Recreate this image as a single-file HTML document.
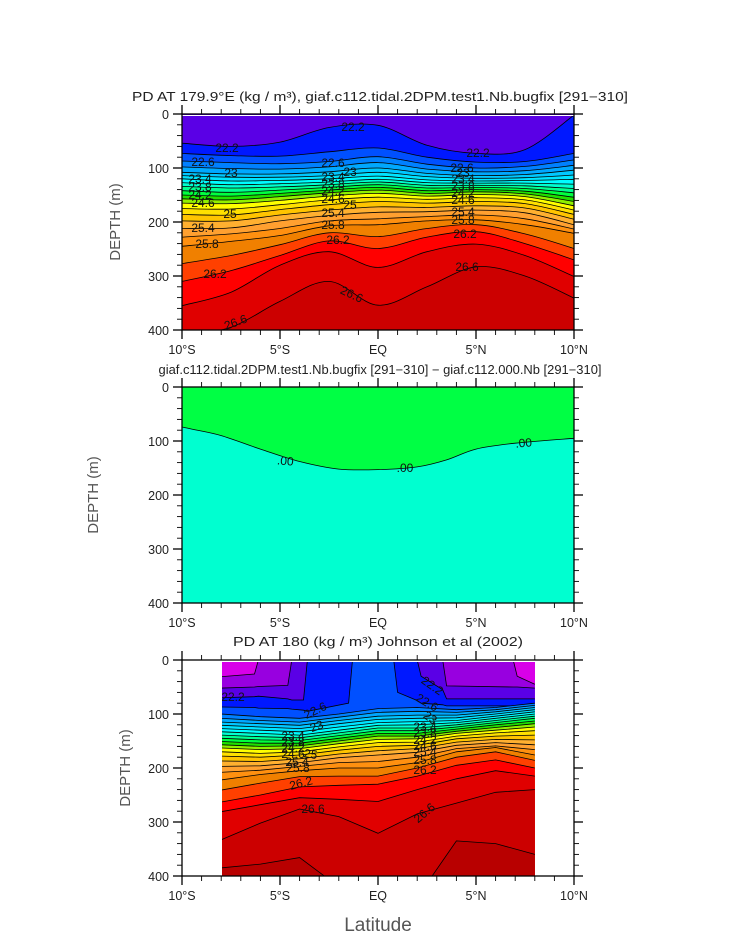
<!DOCTYPE html>
<html><head><meta charset="utf-8"><style>
html,body{margin:0;padding:0;background:#fff;}
svg text{font-family:"Liberation Sans",sans-serif;}
</style></head>
<body>
<svg id="chart" width="733" height="945" viewBox="0 0 733 945" xmlns="http://www.w3.org/2000/svg">
<defs>
<clipPath id="clip1"><rect x="182" y="114" width="392" height="216"/></clipPath>
<clipPath id="clip2"><rect x="182" y="387" width="392" height="216"/></clipPath>
<clipPath id="clip3"><rect x="222" y="662" width="313" height="214"/></clipPath>
</defs>
<text x="380" y="101" font-size="12.5" text-anchor="middle" textLength="496" lengthAdjust="spacingAndGlyphs" fill="#222">PD AT 179.9°E (kg / m³), giaf.c112.tidal.2DPM.test1.Nb.bugfix [291−310]</text>
<text x="380" y="374" font-size="12.5" text-anchor="middle" textLength="443" lengthAdjust="spacingAndGlyphs" fill="#222">giaf.c112.tidal.2DPM.test1.Nb.bugfix [291−310] − giaf.c112.000.Nb [291−310]</text>
<text x="378" y="646" font-size="12.5" text-anchor="middle" textLength="290" lengthAdjust="spacingAndGlyphs" fill="#222">PD AT 180 (kg / m³) Johnson et al (2002)</text>
<g id="p1"></g>
<g id="p2"></g>
<g id="p3"></g>
<text x="378" y="931" font-size="19" text-anchor="middle" fill="#555">Latitude</text>
</svg>
<script>
// ---- data ----
const xTickLats = [-10,-5,0,5,10];
const xTickLabels = ["10°S","5°S","EQ","5°N","10°N"];
const yTickDepths = [0,100,200,300,400];
const yTickLabels = ["0","100","200","300","400"];

const bandLevels = [21.4,21.8,22.2,22.4,22.6,22.8,23.0,23.2,23.4,23.6,23.8,24.0,24.2,24.4,24.6,24.8,25.0,25.2,25.4,25.6,25.8,26.0,26.2,26.4,26.6,26.8];
const bandColors = ["#9800e0","#5a00e6","#0018ff","#0050ff","#0080ff","#00a8ff","#00c8ff","#00e4ff","#00fcff","#00ffd0","#00ff90","#00ff40","#20e000","#90f000","#ffff00","#ffe000","#ffc400","#ffb030","#ffa030","#ff9010","#f08000","#ff4000","#ff0000","#e00000","#cc0000","#b80000"];
const topColor = "#d800e8";

// Panel 1: levels 22.2 .. 26.6
const p1Levels = [22.2,22.4,22.6,22.8,23.0,23.2,23.4,23.6,23.8,24.0,24.2,24.4,24.6,24.8,25.0,25.2,25.4,25.6,25.8,26.0,26.2,26.4,26.6];
const p1Lats = [-10,-7.5,-5,-2.5,0,2.5,5,7.5,10];
const p1DepthsByLat = [
 [54,73,87,98,108,114,120,127,134,142,150,157,165,175,186,198,212,228,245,277,310,355,410],
 [60,77,90,101,111,117,124,131,137,145,152,159,166,176,187,198,211,222,236,262,290,330,395],
 [52,78,92,102,111,117,123,129,135,141,147,153,160,168,177,187,198,212,225,242,262,280,347],
 [25,70,88,98,107,114,120,126,131,136,141,146,152,159,168,178,188,198,207,220,235,255,310],
 [21,63,79,90,100,108,115,121,126,131,136,141,147,154,162,172,182,194,205,227,249,284,354],
 [58,80,93,102,110,116,122,127,132,137,142,147,152,158,165,173,181,190,198,212,228,255,320],
 [73,89,100,107,114,119,124,128,132,136,140,144,149,155,162,170,178,187,196,205,218,241,283],
 [66,88,97,105,112,118,123,128,133,138,143,148,153,159,166,174,183,194,205,222,240,262,300],
 [2,73,85,95,104,113,121,130,138,146,154,162,170,178,186,195,205,213,221,249,270,301,341]
];

// Panel 2: zero contour
const p2Lats = [-10,-9.5,-8,-6,-4,-2,0,2,3.5,5,7,10];
const p2ZeroDepth = [74,78,90,115,138,152,153,148,135,115,104,95];

// Panel 3: surface levels (fine latitude grid)
const p3SurfLevels = [21.4,21.8,22.2,22.4];
const p3SurfLats = [-8,-6.3,-6.1,-4.6,-4.4,-3.8,-3.6,-1.5,-1.3,0,0.8,1.0,2.0,2.2,3.3,3.5,6.9,7.1,8];
const p3Surf214 = [31,26,0,0,0,0,0,0,0,0,0,0,0,0,0,0,0,30,45];
const p3Surf218 = [52,50,49,47,0,0,0,0,0,0,0,0,0,0,0,48,50,50,52];
const p3Surf222 = [70,68,67,72,74,74,0,0,0,0,0,0,0,30,55,72,72,72,72];
const p3Surf224 = [87,88,89,90,91,93,95,80,0,0,0,60,75,80,83,85,85,84,84];
// Panel 3: thermocline levels 22.6 .. 26.8 (coarse grid)
const p3ThermLevels = [22.6,22.8,23.0,23.2,23.4,23.6,23.8,24.0,24.2,24.4,24.6,24.8,25.0,25.2,25.4,25.6,25.8,26.0,26.2,26.4,26.6,26.8];
const p3ThermLats = [-8,-6,-4,-2,0,2,4,6,8];
const p3ThermByLat = [
 [100,108,115,121,127,133,139,145,151,157,163,170,178,187,197,208,222,241,263,281,333,385],
 [105,112,118,124,130,136,142,148,154,160,166,173,180,188,196,204,212,228,250,268,302,378],
 [108,115,121,127,133,139,144,149,154,159,164,170,176,183,190,197,205,216,235,255,276,366],
 [100,106,112,118,124,130,135,140,145,150,155,161,167,174,181,190,200,215,232,258,290,420],
 [90,97,104,110,116,121,126,131,136,141,147,153,160,168,176,188,200,215,230,262,321,460],
 [88,95,102,108,114,120,126,131,136,141,146,152,158,164,171,180,190,200,215,240,285,440],
 [92,97,102,107,112,116,120,124,128,132,136,141,146,152,158,164,170,180,195,220,265,335],
 [88,92,96,100,104,108,112,116,120,125,130,135,141,147,153,159,162,170,185,205,245,340],
 [80,84,88,92,96,100,104,108,113,118,124,131,139,148,157,166,176,186,200,215,240,360]
];

// ---- helpers ----
const NS = "http://www.w3.org/2000/svg";
const X0 = 182, XW = 392, YH = 216;
function xScale(lat){ return X0 + (lat + 10) / 20 * XW; }
function yScaleFor(top){ return d => top + d / 400 * YH; }
function mk(tag, attrs, parent){
  const e = document.createElementNS(NS, tag);
  for (const k in attrs) e.setAttribute(k, attrs[k]);
  parent.appendChild(e);
  return e;
}
function colorFor(level){ const i = bandLevels.indexOf(level); return bandColors[i]; }
function pathThrough(pts, smooth){
  let d = "M" + pts[0][0].toFixed(1) + "," + pts[0][1].toFixed(1);
  for (let i = 0; i < pts.length - 1; i++){
    const p0 = pts[i-1] || pts[i], p1 = pts[i], p2 = pts[i+1], p3 = pts[i+2] || pts[i+1];
    if (smooth){
      const c1 = [p1[0] + (p2[0]-p0[0])/6, p1[1] + (p2[1]-p0[1])/6];
      const c2 = [p2[0] - (p3[0]-p1[0])/6, p2[1] - (p3[1]-p1[1])/6];
      d += "C" + c1[0].toFixed(1) + "," + c1[1].toFixed(1) + " " + c2[0].toFixed(1) + "," + c2[1].toFixed(1) + " " + p2[0].toFixed(1) + "," + p2[1].toFixed(1);
    } else {
      d += "L" + p2[0].toFixed(1) + "," + p2[1].toFixed(1);
    }
  }
  return d;
}
function drawLevel(g, lats, depths, ys, color, smooth, bottomY){
  const pts = lats.map((la, i) => [xScale(la), ys(depths[i])]);
  const line = pathThrough(pts, smooth);
  const band = mk("path", {d: line + "L" + pts[pts.length-1][0] + "," + bottomY + "L" + pts[0][0] + "," + bottomY + "Z", fill: color, stroke: "none"}, g);
  
  
  const ln = mk("path", {d: line, fill: "none", stroke: "#000", "stroke-width": "0.8"}, g);
  
  
}
function drawAxes(g, top, depthX){
  const ys = yScaleFor(top);
  const frame = mk("rect", {x: X0, y: top, width: XW, height: YH, fill: "none", stroke: "#000", "stroke-width": "1.3"}, g);
  
  
  for (let la = -10; la <= 10; la++){
    const x = xScale(la), major = la % 5 === 0, L = major ? 9 : 5;
    const t1 = mk("line", {x1: x, x2: x, y1: top + YH, y2: top + YH + L, stroke: "#000", "stroke-width": major ? 1.3 : 0.9}, g);
    
    
    const t2 = mk("line", {x1: x, x2: x, y1: top, y2: top - L, stroke: "#000", "stroke-width": major ? 1.3 : 0.9}, g);
    
    
  }
  for (let d = 0; d <= 400; d += 20){
    const y = ys(d), major = d % 100 === 0, L = major ? 9 : 5;
    const t1 = mk("line", {x1: X0, x2: X0 - L, y1: y, y2: y, stroke: "#000", "stroke-width": major ? 1.3 : 0.9}, g);
    
    
    const t2 = mk("line", {x1: X0 + XW, x2: X0 + XW + L, y1: y, y2: y, stroke: "#000", "stroke-width": major ? 1.3 : 0.9}, g);
    
    
  }
  xTickLats.forEach((la, i) => {
    const t = mk("text", {x: xScale(la), y: top + YH + 24, "font-size": "12.5", "text-anchor": "middle", fill: "#222"}, g);
    t.textContent = xTickLabels[i];
    
    
  });
  yTickDepths.forEach((d, i) => {
    const t = mk("text", {x: 169, y: ys(d) + 5, "font-size": "12.5", "text-anchor": "end", fill: "#222"}, g);
    t.textContent = yTickLabels[i];
    
    
  });
  const yt = mk("text", {x: depthX, y: top + YH/2, "font-size": "15", "text-anchor": "middle", fill: "#555", transform: "rotate(-90 " + depthX + " " + (top + YH/2) + ")"}, g);
  yt.textContent = "DEPTH (m)";
  
  
}
function addLabels(g, list){
  list.forEach(l => {
    const t = mk("text", {x: l[1], y: l[2], "font-size": "12", "text-anchor": "middle", fill: "#111"}, g);
    if (l[3]) t.setAttribute("transform", "rotate(" + l[3] + " " + l[1] + " " + l[2] + ")");
    t.textContent = l[0];
    
    
  });
}

// ---- panel 1 ----
(function(){
  const g = document.getElementById("p1"), top = 114, ys = yScaleFor(top);
  const cg = mk("g", {"clip-path": "url(#clip1)"}, g);
  const bg = mk("rect", {x: X0, y: top, width: XW, height: YH, fill: colorFor(21.8)}, cg);
  
  
  p1Levels.forEach((lev, k) => {
    drawLevel(cg, p1Lats, p1DepthsByLat.map(c => c[k]), ys, colorFor(lev), true, top + YH + 10);
  });
  const wl = mk("line", {x1: X0, x2: X0 + XW, y1: top + 1.5, y2: top + 1.5, stroke: "#fff", "stroke-width": "1"}, cg);
  
  
  addLabels(cg, [["22.2",227,152],["22.2",353,131],["22.2",478,157],["22.6",203,166],["22.6",333,167],["22.6",462,172],
    ["23",231,177],["23",350,176],["23.4",200,183],["23.8",200,191],["24.2",200,199],["24.6",203,207],["25",230,218],
    ["25.4",203,232],["25.8",207,248],["26.2",215,278],["26.6",237,326,-20],["26.6",350,298,25],["26.6",467,271],
    ["23.4",333,181],["23.8",333,188],["24.2",333,195],["24.6",333,203],["25",350,209],["25.4",333,217],["25.8",333,229],["26.2",338,244],
    ["23",463,177],["23.4",463,183],["23.8",463,190],["24.2",463,197],["24.6",463,204],["25.4",463,216],["25.8",463,224],["26.2",465,238]]);
  drawAxes(g, top, 120);
})();

// ---- panel 2 ----
(function(){
  const g = document.getElementById("p2"), top = 387, ys = yScaleFor(top);
  const cg = mk("g", {"clip-path": "url(#clip2)"}, g);
  const bg = mk("rect", {x: X0, y: top, width: XW, height: YH, fill: "#00ff44"}, cg);
  
  
  drawLevel(cg, p2Lats, p2ZeroDepth, ys, "#00ffd0", true, top + YH + 10);
  addLabels(cg, [[".00",285,465,5],[".00",405,472],[".00",524,447,-5]]);
  drawAxes(g, top, 98);
})();

// ---- panel 3 ----
(function(){
  const g = document.getElementById("p3"), top = 660, ys = yScaleFor(top);
  const cg = mk("g", {"clip-path": "url(#clip3)"}, g);
  const bg = mk("rect", {x: 222, y: top, width: 313, height: YH, fill: topColor}, cg);
  
  
  const surf = [p3Surf214, p3Surf218, p3Surf222, p3Surf224];
  p3SurfLevels.forEach((lev, k) => {
    drawLevel(cg, p3SurfLats, surf[k], ys, colorFor(lev), false, top + YH + 10);
  });
  p3ThermLevels.forEach((lev, k) => {
    drawLevel(cg, p3ThermLats, p3ThermByLat.map(c => c[k]), ys, colorFor(lev), false, top + YH + 10);
  });
  addLabels(cg, [["22.2",233,701],["22.6",317,714,-25],["23",318,730,-20],["23.4",293,740],["23.8",293,746],["24.2",293,752],["24.6",293,758],
    ["25",310,758,10],["25.4",297,766],["25.8",298,772],["26.2",302,787,-15],["26.6",313,813],
    ["22.2",430,689,35],["22.6",425,706,30],["23",428,721,35],["23.4",425,731],["23.8",425,737],["24.2",425,744],["24.6",425,750],
    ["25.4",425,756],["25.8",425,764],["26.2",425,774],["26.6",427,816,-40]]);
  drawAxes(g, top, 130);
})();
</script>
</body></html>
